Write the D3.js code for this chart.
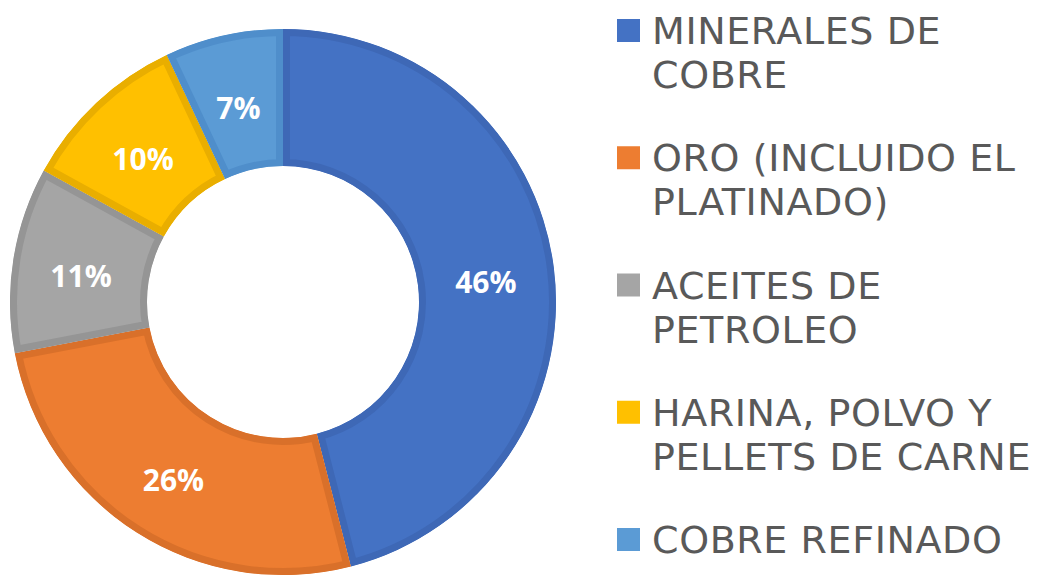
<!DOCTYPE html>
<html>
<head>
<meta charset="utf-8">
<script src="https://cdn.jsdelivr.net/npm/d3@7"></script>
<style>
  html, body { margin: 0; padding: 0; background: #ffffff; }
  svg { display: block; }
</style>
</head>
<body>
<svg id="chart" width="1041" height="581"></svg>
<script>
const categories = [
  "MINERALES DE COBRE",
  "ORO (INCLUIDO EL PLATINADO)",
  "ACEITES DE PETROLEO",
  "HARINA, POLVO Y PELLETS DE CARNE",
  "COBRE REFINADO"
];
const legendLines = [
  ["MINERALES DE", "COBRE"],
  ["ORO (INCLUIDO EL", "PLATINADO)"],
  ["ACEITES DE", "PETROLEO"],
  ["HARINA, POLVO Y", "PELLETS DE CARNE"],
  ["COBRE REFINADO"]
];
const values = [46, 26, 11, 10, 7];
const labels = ["46%", "26%", "11%", "10%", "7%"];
const fills = ["#4472C4", "#ED7D31", "#A5A5A5", "#FFC000", "#5B9BD5"];
const borders = ["#3E68B6", "#D9702A", "#959595", "#E9AE00", "#4F8ECB"];

const svg = d3.select("#chart");
const cx = 283, cy = 302, R = 273, r0 = 136;

const pie = d3.pie().value(d => d).sort(null);
const arcs = pie(values);
const arc = d3.arc().innerRadius(r0).outerRadius(R);
const labelArc = d3.arc().innerRadius((R + r0) / 2).outerRadius((R + r0) / 2);

const g = svg.append("g").attr("transform", `translate(${cx},${cy})`);
const defs = svg.append("defs");

arcs.forEach((a, i) => {
  defs.append("clipPath").attr("id", "clip" + i)
    .append("path").attr("d", arc(a));
});

g.selectAll("path.slice")
  .data(arcs)
  .join("path")
  .attr("class", "slice")
  .attr("d", arc)
  .attr("fill", (d, i) => fills[i])
  .attr("stroke", (d, i) => borders[i])
  .attr("stroke-width", 14)
  .attr("stroke-linejoin", "miter")
  .attr("clip-path", (d, i) => `url(#clip${i})`);

g.selectAll("text.lbl")
  .data(arcs)
  .join("text")
  .attr("class", "lbl")
  .attr("transform", d => { const c = labelArc.centroid(d); return `translate(${c[0]},${c[1] + 6})`; })
  .attr("text-anchor", "middle")
  .attr("dy", "0.36em")
  .attr("fill", "#ffffff")
  .attr("font-family", "'Open Sans', 'Liberation Sans', sans-serif")
  .attr("font-weight", 700)
  .attr("font-size", 30)
  .text((d, i) => labels[i]);

// Legend
const legendY = d3.scalePoint().domain(d3.range(categories.length)).range([44, 553]);
const lineH = 44;
const leg = svg.append("g");
categories.forEach((c, i) => {
  const y0 = legendY(i);
  leg.append("rect")
    .attr("x", 617).attr("y", y0 - 25)
    .attr("width", 23).attr("height", 23)
    .attr("fill", fills[i]);
  const t = leg.append("text")
    .attr("x", 652).attr("y", y0)
    .attr("fill", "#595959")
    .attr("font-family", "'DejaVu Sans', Verdana, sans-serif")
    .attr("font-size", 38)
    .attr("letter-spacing", 0.6);
  legendLines[i].forEach((ln, k) => {
    t.append("tspan").attr("x", 652).attr("y", y0 + k * lineH).text(ln);
  });
});
</script>
</body>
</html>
